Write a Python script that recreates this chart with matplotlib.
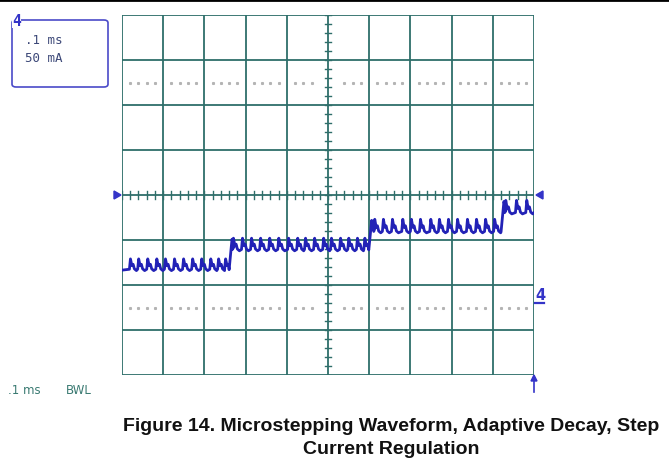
import matplotlib
matplotlib.use("Agg")
import matplotlib.pyplot as plt
from matplotlib.patches import FancyBboxPatch, Polygon
import numpy as np

# ---- data (divisions: x 0..10, y -4..4) ----
step_edges = [0.0, 2.61, 6.0, 9.21, 10.0]
level_base = [-1.62, -1.18, -0.78, -0.36]
spike_height = [0.20, 0.22, 0.24, 0.24]
spikes_l1 = [0.19, 0.39, 0.61, 0.83, 1.04, 1.26, 1.48, 1.70, 1.92, 2.14, 2.33, 2.50]
spikes_l2 = [2.69, 2.91, 3.13, 3.35, 3.57, 3.79, 4.03, 4.25, 4.44, 4.66, 4.88, 5.07, 5.29, 5.49, 5.70, 5.88]
spikes_l3 = [6.12, 6.33, 6.55, 6.80, 7.01, 7.23, 7.48, 7.69, 7.91, 8.13, 8.37, 8.59, 8.81, 9.03]
spikes_l4 = [9.30, 9.56, 9.81]
spike_sets = [spikes_l1, spikes_l2, spikes_l3, spikes_l4]

time_label = ".1 ms"
amp_label = "50 mA"
bw_label = "BWL"
caption = "Figure 14. Microstepping Waveform, Adaptive Decay, Step\nCurrent Regulation"

GRID = "#2e6e6a"
TRACE = "#2222b6"
MARK = "#3434c8"

W, H = 669, 477
fig = plt.figure(figsize=(W / 100, H / 100), dpi=100)
fig.patch.set_facecolor("white")

ax_l, ax_r, ax_t, ax_b = 122, 534, 16, 376
ax = fig.add_axes([ax_l / W, 1 - ax_b / H, (ax_r - ax_l) / W, (ax_b - ax_t) / H])
ax.set_xlim(0, 10)
ax.set_ylim(-4, 4)
ax.axis("off")

# grid
for gx in range(11):
    ax.plot([gx, gx], [-4, 4], color=GRID, lw=1.3, solid_capstyle="butt", zorder=2)
for gy in range(-4, 5):
    ax.plot([0, 10], [gy, gy], color=GRID, lw=1.3, solid_capstyle="butt", zorder=2)

# center-axis minor ticks
minor = np.arange(0, 10.001, 0.2)
for mx in minor:
    ax.plot([mx, mx], [-0.09, 0.09], color=GRID, lw=1.0, zorder=2)
for my in np.arange(-4, 4.001, 0.2):
    ax.plot([4.92, 5.08], [my, my], color=GRID, lw=1.0, zorder=2)

# dotted reference rows
dots_x = [m for m in minor if abs(m - round(m)) > 0.05 and not (4.7 < m < 5.3)]
for dy in (2.5, -2.5):
    ax.plot(dots_x, [dy] * len(dots_x), linestyle="none", marker="s", ms=1.2,
            color="#b4b4b4", zorder=1)

# waveform trace
xs, ys = [0.0], [level_base[0] - 0.05]
for i, (b, h, sp) in enumerate(zip(level_base, spike_height, spike_sets)):
    x0, x1 = step_edges[i], step_edges[i + 1]
    if i > 0:
        xs += [x0 + 0.06, x0 + 0.10, x0 + 0.14]
        ys += [b + h * 0.9, b + h * 0.15, b + h * 0.35]
    for t in sp:
        pts = [(t - 0.01, b - 0.03), (t + 0.015, b + h), (t + 0.05, b + 0.25 * h),
               (t + 0.08, b + 0.4 * h), (t + 0.11, b - 0.02), (t + 0.16, b - 0.06)]
        for px, py in pts:
            if px < x1 - 0.02:
                xs.append(px)
                ys.append(py)
    xs += [x1 - 0.01]
    ys += [b - 0.04]
ax.plot(xs, ys, color=TRACE, lw=2.0, zorder=4, solid_joinstyle="round")

# top black rule
fig.add_artist(plt.Line2D([0, 1], [1 - 1 / H, 1 - 1 / H], color="black", lw=2,
                          transform=fig.transFigure))

# info box
box = FancyBboxPatch((12 / W, 1 - 88 / H), 96 / W, 67 / H,
                     boxstyle="round,pad=0,rounding_size=0.006",
                     transform=fig.transFigure, fill=False, ec="#4a4ac8", lw=1.2)
fig.add_artist(box)
fig.text(12 / W, 1 - 21 / H, "4", color=MARK, fontsize=10.5, fontweight="bold",
         family="DejaVu Sans Mono", va="center", ha="left",
         bbox=dict(boxstyle="square,pad=0.02", fc="white", ec="none"))
fig.text(25 / W, 1 - 41 / H, time_label, color="#3c4878", fontsize=9,
         family="DejaVu Sans Mono", va="center", ha="left")
fig.text(25 / W, 1 - 58 / H, amp_label, color="#3c4878", fontsize=9,
         family="DejaVu Sans Mono", va="center", ha="left")

# bottom labels
fig.text(8 / W, 1 - 390 / H, time_label, color="#3a7a72", fontsize=8.5,
         family="DejaVu Sans", va="center", ha="left")
fig.text(66 / W, 1 - 390 / H, bw_label, color="#3a7a72", fontsize=8.5,
         family="DejaVu Sans", va="center", ha="left")

# markers
fig.add_artist(Polygon([[114 / W, 1 - 192 / H], [114 / W, 1 - 200 / H], [121 / W, 1 - 196 / H]],
                       closed=True, color=MARK, transform=fig.transFigure))
fig.add_artist(Polygon([[543 / W, 1 - 192 / H], [543 / W, 1 - 200 / H], [536 / W, 1 - 196 / H]],
                       closed=True, color=MARK, transform=fig.transFigure))
fig.text(540 / W, 1 - 295 / H, "4", color=MARK, fontsize=10.5, fontweight="bold",
         family="DejaVu Sans", va="center", ha="center")
fig.add_artist(plt.Line2D([535 / W, 544 / W], [1 - 304 / H, 1 - 304 / H], color=MARK, lw=1.6,
                          transform=fig.transFigure))
fig.add_artist(plt.Line2D([534 / W, 534 / W], [1 - 393 / H, 1 - 378 / H], color=MARK, lw=1.2,
                          transform=fig.transFigure))
fig.add_artist(Polygon([[531 / W, 1 - 382 / H], [537 / W, 1 - 382 / H], [534 / W, 1 - 376 / H]],
                       closed=True, color=MARK, transform=fig.transFigure))

# caption
fig.text(391 / W, 1 - 438 / H, caption, ha="center", va="center", fontsize=14,
         fontweight="bold", family="Liberation Sans", linespacing=1.42, color="#111111")

fig.savefig("out.png", dpi=100, facecolor="white")
